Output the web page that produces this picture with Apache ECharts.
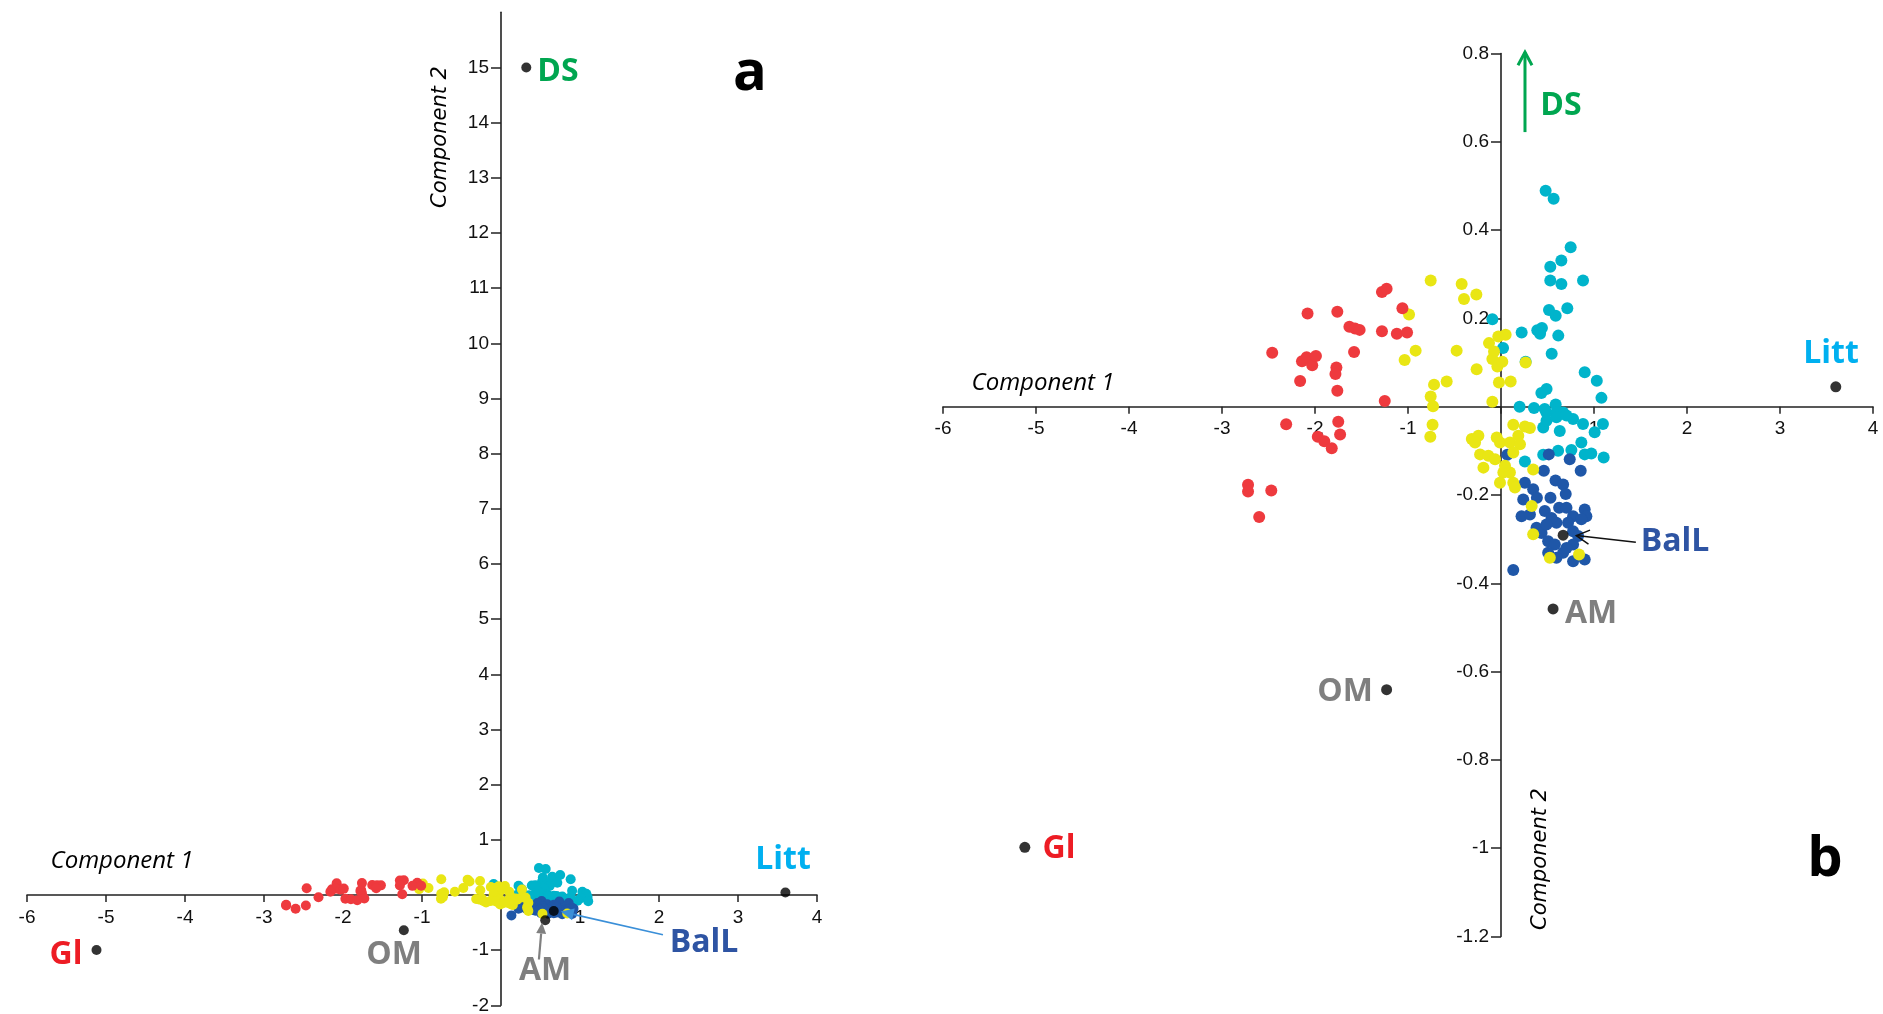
<!DOCTYPE html>
<html><head><meta charset="utf-8">
<script src="https://cdn.jsdelivr.net/npm/echarts@6/dist/echarts.min.js"></script>
<style>html,body{margin:0;padding:0;background:#fff}#c{width:1883px;height:1014px}</style>
</head><body><div id="c"></div>
<script>
// ---- data (Component 1, Component 2) ----
const redPts = [
[-1.28,0.260],[-1.23,0.267],[-2.08,0.211],[-1.76,0.215],[-1.06,0.223],
[-1.63,0.181],[-1.57,0.177],[-1.52,0.174],[-1.28,0.171],[-1.12,0.165],[-1.01,0.168],
[-2.46,0.122],[-2.14,0.103],[-2.09,0.112],[-2.03,0.094],[-1.99,0.115],[-1.58,0.124],
[-1.77,0.089],[-1.78,0.074],[-2.16,0.058],[-1.76,0.036],[-1.25,0.013],
[-2.31,-0.040],[-1.75,-0.034],[-1.73,-0.063],[-1.97,-0.068],[-1.90,-0.078],[-1.82,-0.094],
[-2.72,-0.177],[-2.72,-0.192],[-2.47,-0.190],[-2.60,-0.250]];
const yellowPts = [
[-0.756,0.286],[-0.423,0.278],[-0.265,0.254],[-0.398,0.244],[-0.989,0.209],[-0.918,0.127],
[-1.036,0.106],[-0.477,0.127],[-0.262,0.085],[-0.129,0.144],[-0.029,0.159],[0.05,0.163],
[-0.075,0.125],[-0.093,0.108],[-0.039,0.091],[0.014,0.102],[-0.022,0.055],[0.104,0.057],
[0.265,0.100],[-0.584,0.057],[-0.72,0.050],[-0.756,0.023],[-0.731,0.001],[-0.093,0.011],
[-0.736,-0.041],[-0.76,-0.068],[0.132,-0.041],[0.257,-0.045],[0.311,-0.048],
[-0.314,-0.073],[-0.243,-0.066],[-0.279,-0.081],[-0.046,-0.070],[-0.011,-0.081],[0.096,-0.081],
[0.186,-0.066],[0.204,-0.085],[-0.225,-0.108],[-0.136,-0.111],[-0.189,-0.138],[-0.064,-0.119],
[0.132,-0.104],[0.025,-0.149],[-0.011,-0.172],[0.132,-0.172],[0.096,-0.149],[0.15,-0.183],
[0.043,-0.134],[0.346,-0.142],[0.33,-0.225],[0.346,-0.289],[0.525,-0.342],[0.839,-0.335]];
const cyanPts = [
[0.48,0.489],[0.566,0.471],[0.749,0.361],[0.649,0.331],[0.530,0.317],[0.530,0.286],
[0.649,0.278],[0.882,0.286],[0.516,0.219],[0.588,0.206],[0.713,0.223],[-0.093,0.198],
[0.222,0.168],[0.39,0.173],[0.44,0.178],[0.42,0.165],[0.616,0.161],[0.022,0.133],
[0.545,0.120],[0.265,0.102],[0.90,0.078],[1.03,0.059],[1.08,0.020],[0.49,0.040],[0.434,0.031],
[0.200,0.000],[0.355,-0.003],[0.588,0.005],[0.47,-0.005],
[0.489,-0.013],[0.596,-0.013],[0.668,-0.013],[0.775,-0.028],[0.882,-0.039],[1.096,-0.039],
[0.454,-0.047],[0.632,-0.055],[1.007,-0.058],[0.864,-0.081],[0.757,-0.098],[0.614,-0.100],
[0.454,-0.109],[0.9,-0.108],[0.971,-0.106],[1.104,-0.115],[0.257,-0.124],
[0.489,-0.032],[0.596,-0.024],[0.704,-0.020]];
const bluePts = [
[0.068,-0.109],[0.514,-0.108],[0.739,-0.119],[0.461,-0.145],[0.857,-0.145],[0.586,-0.167],
[0.257,-0.172],[0.668,-0.176],[0.346,-0.187],[0.696,-0.198],[0.386,-0.206],[0.239,-0.210],
[0.532,-0.206],[0.625,-0.229],[0.471,-0.236],[0.9,-0.233],[0.918,-0.248],[0.221,-0.248],
[0.311,-0.244],[0.775,-0.248],[0.864,-0.255],[0.382,-0.274],[0.596,-0.263],[0.721,-0.263],
[0.436,-0.286],[0.775,-0.282],[0.829,-0.293],[0.507,-0.305],[0.579,-0.312],[0.775,-0.312],
[0.507,-0.331],[0.668,-0.331],[0.775,-0.350],[0.9,-0.346],[0.132,-0.370],
[0.704,-0.229],[0.543,-0.252],[0.704,-0.320],[0.596,-0.342],[0.489,-0.267]];
// projected supplementary variables
const refNames = ['DS','Litt','BalL','AM','OM','Gl'];
const refPts = [[0.32,15.0],[3.60,0.045],[0.668,-0.291],[0.56,-0.458],[-1.23,-0.641],[-5.12,-0.998]];
// tick values
const xTicks = [-6,-5,-4,-3,-2,-1,0,1,2,3,4];
const yTicksA = [-2,-1,0,1,2,3,4,5,6,7,8,9,10,11,12,13,14,15];
const yTicksB = [-1.2,-1,-0.8,-0.6,-0.4,-0.2,0,0.2,0.4,0.6,0.8];
const xRange = [-6, 4], yRangeA = [-2, 16], yRangeB = [-1.2, 0.8];

const COL = {red:'#ee3a3e', yellow:'#e9e614', cyan:'#00b4cb', blue:'#1f57a8'};
const GRIDS = [
  {left:27, top:12.3, width:790, height:993},
  {left:943, top:53.5, width:930, height:883}
];
const chart = echarts.init(document.getElementById('c'), null, {renderer:'canvas'});
const tickFont = {fontFamily:'Liberation Sans, Arial', fontSize:19, color:'#111'};
const fmt = v => Math.abs(v) < 1e-9 ? '' : String(+(+v).toFixed(1));

// axes cross at zero: shift each axis inside the grid to the other axis's zero
function zeroOffsetY(g, yr){ return -((0 - yr[0]) / (yr[1] - yr[0])) * GRIDS[g].height; }
function zeroOffsetX(g, xr){ return -((0 - xr[0]) / (xr[1] - xr[0])) * GRIDS[g].width; }

function xAxis(grid, yr){
  return {type:'value', gridIndex:grid, min:xRange[0], max:xRange[1], interval:1, position:'bottom',
    offset: zeroOffsetY(grid, yr),
    axisLine:{onZero:false, lineStyle:{color:'#222', width:1.6}},
    axisTick:{show:true, length:7, lineStyle:{color:'#222', width:1.5}, customValues:xTicks},
    axisLabel:Object.assign({formatter:fmt, margin:13, customValues:xTicks, showMinLabel:true, showMaxLabel:true}, tickFont),
    splitLine:{show:false}};
}
function yAxis(grid, yr, interval, ticks){
  return {type:'value', gridIndex:grid, min:yr[0], max:yr[1], interval:interval, position:'left',
    offset: zeroOffsetX(grid, xRange),
    axisLine:{onZero:false, lineStyle:{color:'#222', width:1.6}},
    axisTick:{show:true, length:10, lineStyle:{color:'#222', width:1.5}, customValues:ticks},
    axisLabel:Object.assign({formatter:fmt, margin:12, customValues:ticks}, tickFont),
    splitLine:{show:false}};
}
function groupSeries(grid, size){
  const s = [];
  [['cyan',cyanPts],['blue',bluePts],['yellow',yellowPts],['red',redPts]].forEach(([k,d])=>{
    s.push({type:'scatter', xAxisIndex:grid, yAxisIndex:grid, data:d, symbolSize:size,
      itemStyle:{color:COL[k], opacity:1}, silent:true});
  });
  return s;
}
const refB = refPts.filter((p,i)=>refNames[i] !== 'DS');
const series = [
  ...groupSeries(0, 10),
  {type:'scatter', xAxisIndex:0, yAxisIndex:0, data:refPts, symbolSize:10, itemStyle:{color:'#000'}, silent:true, z:5},
  ...groupSeries(1, 12),
  {type:'scatter', xAxisIndex:1, yAxisIndex:1, data:refB, symbolSize:11, itemStyle:{color:'#000'}, silent:true, z:5}
];

chart.setOption({
  animation:false,
  backgroundColor:'#fff',
  grid:GRIDS.map(g=>Object.assign({outerBoundsMode:'none', containLabel:false}, g)),
  xAxis:[xAxis(0, yRangeA), xAxis(1, yRangeB)],
  yAxis:[yAxis(0, yRangeA, 1, yTicksA), yAxis(1, yRangeB, 0.2, yTicksB)],
  series:series
});

// ---- annotations ----
const G = [];
const LBL = 'bold 32px "Open Sans", "Liberation Sans", sans-serif';
const C = {DS:'#00a650', Litt:'#00b0f0', BalL:'#2e54a3', AM:'#7f7f7f', OM:'#7f7f7f', Gl:'#ed1c24'};
function txt(t, x, y, fill, font, rot){
  G.push({type:'text', x:x, y:y, rotation:rot||0, z:100,
    style:{text:t, x:0, y:0, fill:fill, font:font, align:'center', verticalAlign:'middle'}});
}
function arrow(grid, from, to, color, width, hl, hw, filled){
  const p0 = chart.convertToPixel({gridIndex:grid}, from);
  const p1 = chart.convertToPixel({gridIndex:grid}, to);
  const dx = p1[0]-p0[0], dy = p1[1]-p0[1], L = Math.hypot(dx,dy);
  const ux = dx/L, uy = dy/L, nx = -uy, ny = ux;
  const bx = p1[0]-ux*hl, by = p1[1]-uy*hl;
  const end = filled ? [bx,by] : p1;
  G.push({type:'line', z:100, shape:{x1:p0[0], y1:p0[1], x2:end[0], y2:end[1]}, style:{stroke:color, lineWidth:width}});
  const pts = [[bx+nx*hw, by+ny*hw], p1, [bx-nx*hw, by-ny*hw]];
  if (filled) G.push({type:'polygon', z:100, shape:{points:pts}, style:{fill:color}});
  else G.push({type:'polyline', z:100, shape:{points:pts}, style:{stroke:color, lineWidth:width, fill:null}});
}
// panel a
txt('DS', 558, 72, C.DS, LBL);
txt('Litt', 783, 860, C.Litt, LBL);
txt('BalL', 704, 943, C.BalL, LBL);
txt('AM', 545, 971, C.AM, LBL);
txt('OM', 394, 955, C.OM, LBL);
txt('Gl', 66, 955, C.Gl, LBL);
txt('a', 750, 74, '#000', 'bold 56px "Open Sans", sans-serif');
txt('Component 1', 122, 861, '#000', 'italic 24px "Open Sans", sans-serif');
txt('Component 2', 441, 137, '#000', 'italic 21px "DejaVu Sans", sans-serif', Math.PI/2);
arrow(0, [0.48,-1.17], [0.52,-0.50], '#808080', 2.2, 11, 5, true);
arrow(0, [2.05,-0.72], [0.756,-0.30], '#3a8fd8', 1.6, 13, 6, true);
// panel b
txt('DS', 1561, 106, C.DS, LBL);
txt('Litt', 1831, 354, C.Litt, LBL);
txt('BalL', 1675, 542, C.BalL, LBL);
txt('AM', 1591, 614, C.AM, LBL);
txt('OM', 1345, 692, C.OM, LBL);
txt('Gl', 1059, 849, C.Gl, LBL);
txt('b', 1825, 860, '#000', 'bold 56px "Open Sans", sans-serif');
txt('Component 1', 1043, 383, '#000', 'italic 24px "Open Sans", sans-serif');
txt('Component 2', 1541, 859, '#000', 'italic 21px "DejaVu Sans", sans-serif', Math.PI/2);
arrow(1, [0.258,0.622], [0.258,0.803], '#00a650', 3, 13, 7, false);
arrow(1, [1.45,-0.307], [0.81,-0.292], '#111', 1.5, 13, 7, false);
chart.setOption({graphic:{elements:G}});
</script></body></html>
